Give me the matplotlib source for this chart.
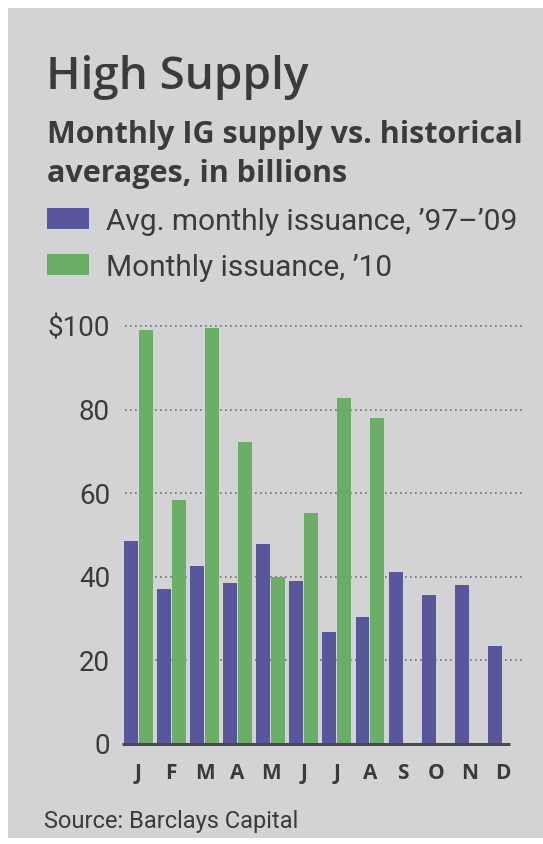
import numpy as np
import matplotlib
matplotlib.use("Agg")
from matplotlib import pyplot as plt
from matplotlib.patches import Rectangle

months = ["J", "F", "M", "A", "M", "J", "J", "A", "S", "O", "N", "D"]
avg_97_09 = [48.5, 37.2, 42.5, 38.6, 47.8, 39.1, 26.9, 30.3, 41.2, 35.7, 38.0, 23.4]
issuance_10 = [99.0, 58.4, 99.5, 72.3, 40.0, 55.2, 82.7, 78.0]
yticks = [0, 20, 40, 60, 80, 100]
ytick_labels = ["0", "20", "40", "60", "80", "$100"]

W, H = 543, 844
BG = "#d3d3d5"
TXT = "#3b3b3d"
BLUE = "#58579b"
GREEN = "#6cad68"
NARROW = ["Roboto", "DejaVu Sans"]


def fx(px):
    return px / W


def fy(py):
    return 1 - py / H


def main():
    fig = plt.figure(figsize=(W / 100, H / 100), dpi=100)
    fig.patch.set_facecolor("white")
    fig.patches.append(Rectangle((fx(8), fy(838)), fx(543) - fx(8), fy(8) - fy(838),
                                 transform=fig.transFigure, facecolor=BG,
                                 edgecolor="none", zorder=-5))

    # titles
    fig.text(fx(46), fy(89), "High Supply", fontsize=33, color=TXT,
             family="Open Sans", weight="semibold", va="baseline")
    fig.text(fx(47), fy(143), "Monthly IG supply vs. historical", fontsize=22,
             color=TXT, family="Open Sans", weight="bold", va="baseline")
    fig.text(fx(47), fy(182), "averages, in billions", fontsize=22,
             color=TXT, family="Open Sans", weight="bold", va="baseline")

    # legend
    for y0, col, lab in ((208, BLUE, "Avg. monthly issuance, \u201997\u2013\u201909"),
                         (254, GREEN, "Monthly issuance, \u201910")):
        fig.patches.append(Rectangle((fx(47), fy(y0 + 21)), fx(89) - fx(47), fy(y0) - fy(y0 + 21),
                                     transform=fig.transFigure, facecolor=col,
                                     edgecolor="none", zorder=-1))
        fig.text(fx(106), fy(y0 + 22), lab, fontsize=21.5, color=TXT,
                 family=NARROW, va="baseline")

    ax = fig.add_axes([fx(124), fy(744), fx(512) - fx(124), fy(326) - fy(744)])
    ax.set_facecolor("none")
    x = np.arange(len(months))
    wd = 0.42
    ax.bar(x - 0.225, avg_97_09, wd, color=BLUE, zorder=3, clip_on=False)
    ax.bar(x[:len(issuance_10)] + 0.225, issuance_10, wd, color=GREEN, zorder=3, clip_on=False)

    for v in yticks[1:]:
        ax.plot([-0.4, 11.6], [v, v], color="#707072", lw=1.2,
                linestyle=(0, (1, 2)), zorder=1, clip_on=False)
    ax.plot([-0.49, 11.24], [0, 0], color="#4a4a4c", lw=2.2, zorder=4,
            clip_on=False, solid_capstyle="butt")

    ax.set_xlim(-0.43, 11.29)
    ax.set_ylim(0, 100)
    ax.set_yticks(yticks)
    ax.set_yticklabels(ytick_labels, family=NARROW, fontsize=20, color=TXT)
    ax.set_xticks(x)
    ax.set_xticklabels(months, family="Open Sans", weight="bold", fontsize=15, color=TXT)
    ax.tick_params(axis="y", length=0, pad=10)
    ax.tick_params(axis="x", length=0, pad=14)
    for s in ax.spines.values():
        s.set_visible(False)

    fig.text(fx(44), fy(828), "Source: Barclays Capital", fontsize=17, color=TXT,
             family=NARROW, va="baseline")

    fig.savefig("out.png", dpi=100, facecolor=fig.get_facecolor())
    plt.close(fig)


if __name__ == "__main__":
    main()
